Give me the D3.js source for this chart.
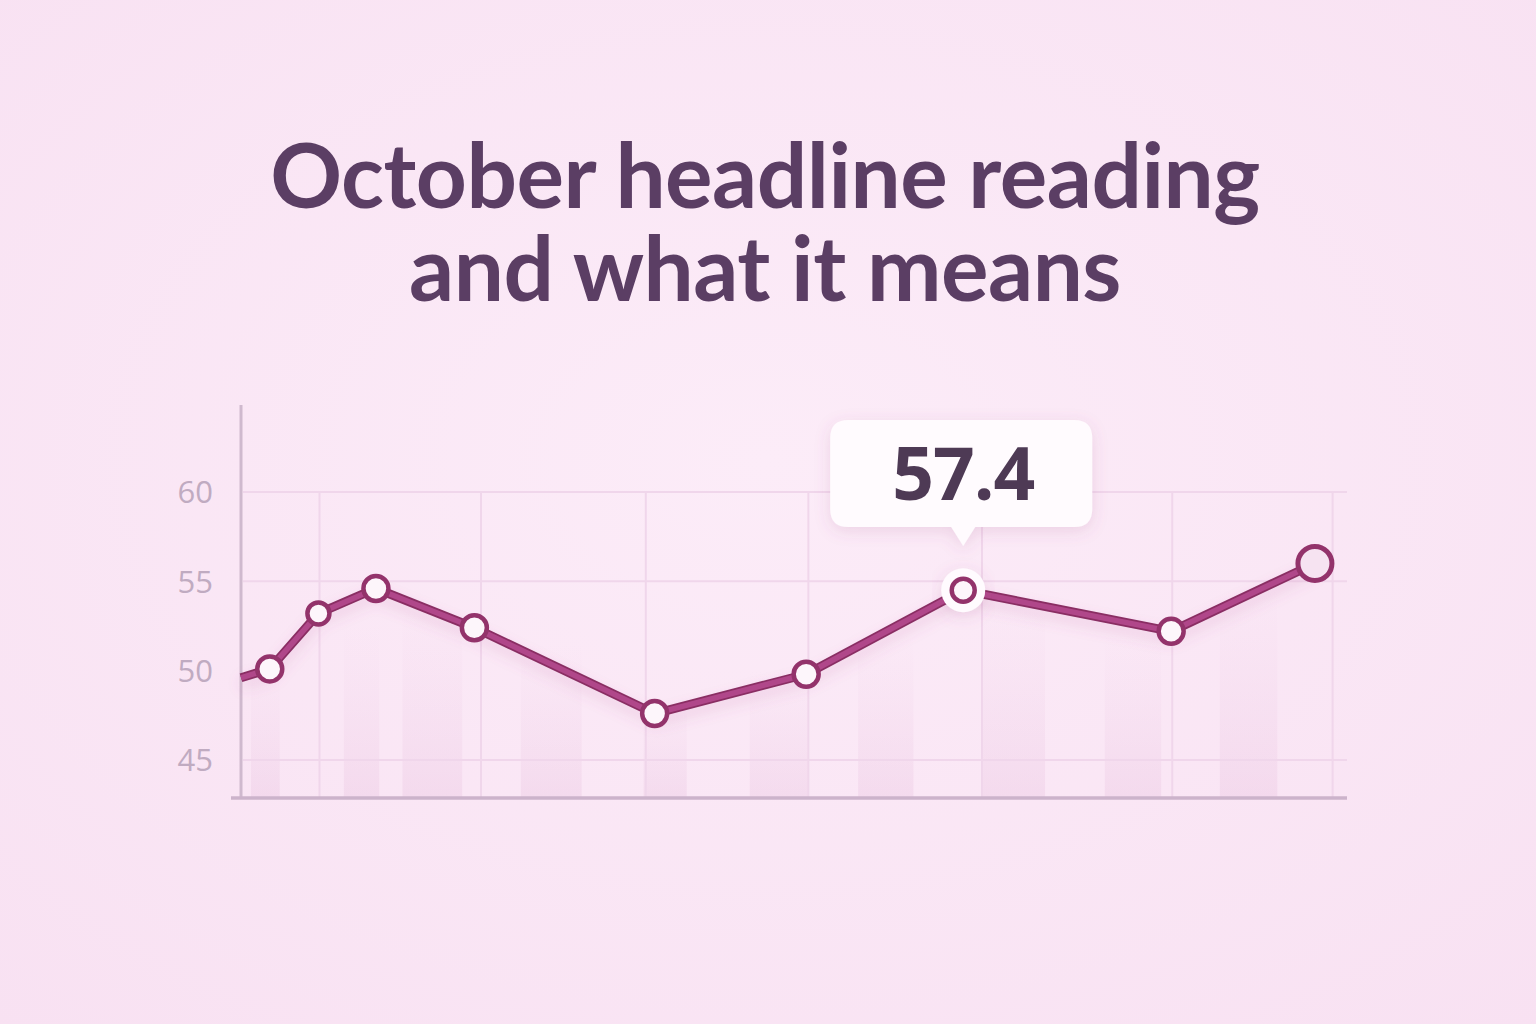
<!DOCTYPE html>
<html>
<head>
<meta charset="utf-8">
<script src="https://cdn.jsdelivr.net/npm/d3@7"></script>
<style>
html,body{margin:0;padding:0;background:#fae7f5;}
#wrap{position:relative;width:1536px;height:1024px;overflow:hidden;}
svg{display:block;position:absolute;left:0;top:0;}
#title{position:absolute;left:0;width:1530px;top:127px;text-align:center;
  font-family:Lato,'Open Sans',sans-serif;font-weight:700;font-size:89px;line-height:93px;
  letter-spacing:-0.5px;color:#5b3e64;margin:0;}
</style>
</head>
<body>
<div id="wrap">
<svg id="chart" width="1536" height="1024"></svg>
<div id="title"></div>
</div>
<script>
// ---- data ----
const titleLines = ["October headline reading", "and what it means"];
const periods = [0, 2.6, 7.0, 12.2, 21.1, 37.4, 51.1, 65.3, 84.1, 97.1];
const readings = [49.6, 50.1, 53.2, 54.6, 52.4, 47.6, 49.8, 54.5, 52.2, 56.0];
const showMarker = [false, true, true, true, true, true, true, true, true, true];
const highlightIndex = 7;
const calloutText = "57.4";
const yTicks = [45, 50, 55, 60];
const yGridValues = [45, 55, 60];
const xGridPeriods = [7.1, 21.7, 36.6, 51.3, 67.0, 84.2, 98.7];
const barStarts = [0.9, 9.3, 14.6, 25.3, 36.4, 46.0, 55.8, 67.0, 78.1, 88.5];
const barEnds   = [3.5, 12.5, 20.0, 30.8, 40.3, 51.3, 60.8, 72.7, 83.2, 93.7];
const barValues = [50.5, 52.5, 53.5, 51.5, 48.5, 50.0, 52.0, 54.0, 52.0, 54.5];

// ---- layout ----
const W = 1536, H = 1024;
const svg = d3.select("#chart");
const defs = svg.append("defs");

const bg = defs.append("radialGradient").attr("id","bg").attr("cx","50%").attr("cy","45%").attr("r","75%");
bg.append("stop").attr("offset","0%").attr("stop-color","#fcecf8");
bg.append("stop").attr("offset","100%").attr("stop-color","#f8e1f2");
svg.append("rect").attr("width",W).attr("height",H).attr("fill","url(#bg)");

const barGrad = defs.append("linearGradient").attr("id","barGrad").attr("x1",0).attr("y1",0).attr("x2",0).attr("y2",1);
barGrad.append("stop").attr("offset","0%").attr("stop-color","#ecc9e4").attr("stop-opacity",0);
barGrad.append("stop").attr("offset","100%").attr("stop-color","#e6bddc").attr("stop-opacity",0.3);

const shadow = defs.append("filter").attr("id","shadow").attr("x","-20%").attr("y","-20%").attr("width","140%").attr("height","160%");
shadow.append("feDropShadow").attr("dx",0).attr("dy",7).attr("stdDeviation",7).attr("flood-color","#b0508a").attr("flood-opacity",0.16);

const boxShadow = defs.append("filter").attr("id","boxShadow").attr("x","-20%").attr("y","-30%").attr("width","140%").attr("height","170%");
boxShadow.append("feDropShadow").attr("dx",0).attr("dy",4).attr("stdDeviation",8).attr("flood-color","#a0507f").attr("flood-opacity",0.16);

// title (single block, two lines)
const titleDiv = d3.select("#title");
titleLines.forEach((t,i)=>{
  if(i>0) titleDiv.append("br");
  titleDiv.append(()=>document.createTextNode(t));
});

// scales
const x = d3.scaleLinear().domain([0,100]).range([241,1347]);
const y = d3.scaleLinear().domain([45,60]).range([760,492]);
const baseY = 798;

// background bars
svg.append("g").selectAll("rect").data(barValues).join("rect")
  .attr("x",(d,i)=>x(barStarts[i]))
  .attr("width",(d,i)=>x(barEnds[i])-x(barStarts[i]))
  .attr("y",d=>y(d))
  .attr("height",d=>baseY-y(d))
  .attr("fill","url(#barGrad)");

// grid
const grid = svg.append("g").attr("stroke","#f0d6eb").attr("stroke-width",2);
grid.selectAll("line.h").data(yGridValues).join("line").attr("class","h")
  .attr("x1",243).attr("x2",1347).attr("y1",d=>y(d)).attr("y2",d=>y(d));
grid.selectAll("line.v").data(xGridPeriods).join("line").attr("class","v")
  .attr("x1",d=>x(d)).attr("x2",d=>x(d)).attr("y1",y(60)).attr("y2",baseY);

// y axis via d3.axisLeft
const yAxis = d3.axisLeft(y).tickValues(yTicks).tickSize(0).tickPadding(28).tickFormat(d3.format("d"));
const gy = svg.append("g").attr("transform","translate(241,0)").call(yAxis);
gy.select(".domain").remove();
gy.selectAll("text")
  .attr("font-family","'Open Sans', sans-serif")
  .attr("font-size",31)
  .attr("fill","#c0abc1")
  .attr("dy","0.35em");

// axis lines
svg.append("line").attr("x1",241).attr("x2",241).attr("y1",405).attr("y2",baseY)
  .attr("stroke","#cfb9ce").attr("stroke-width",3);
svg.append("line").attr("x1",231).attr("x2",1347).attr("y1",baseY).attr("y2",baseY)
  .attr("stroke","#ccb3cb").attr("stroke-width",3.5);

// line
const pts = periods.map((p,i)=>({x:x(p), y:y(readings[i]), i}));
const line = d3.line().x(d=>d.x).y(d=>d.y);
svg.append("path").datum(pts)
  .attr("d",line).attr("fill","none")
  .attr("stroke","#8a2f64").attr("stroke-width",9).attr("stroke-linejoin","round")
  .attr("filter","url(#shadow)");
svg.append("path").datum(pts)
  .attr("d",line).attr("fill","none")
  .attr("stroke","#b0478a").attr("stroke-width",5.5).attr("stroke-linejoin","round");

// callout
const hp = pts[highlightIndex];
const cg = svg.append("g").attr("filter","url(#boxShadow)");
const bx = hp.x - 133, bw = 262, by = 420, bh = 107;
cg.append("path")
  .attr("d", `M${bx+18},${by} H${bx+bw-18} Q${bx+bw},${by} ${bx+bw},${by+18} V${by+bh-18} Q${bx+bw},${by+bh} ${bx+bw-18},${by+bh} H${hp.x+12} L${hp.x},${by+bh+19} L${hp.x-12},${by+bh} H${bx+18} Q${bx},${by+bh} ${bx},${by+bh-18} V${by+18} Q${bx},${by} ${bx+18},${by} Z`)
  .attr("fill","#fffbfe");
svg.append("text").attr("x",hp.x).attr("y",500)
  .attr("text-anchor","middle")
  .attr("font-family","'Open Sans', sans-serif")
  .attr("font-weight",700)
  .attr("font-size",73)
  .attr("letter-spacing",-1)
  .attr("fill","#4e3a55")
  .text(calloutText);

// markers
const mk = pts.filter(d=>showMarker[d.i]);
const last = readings.length-1;
svg.append("circle").attr("cx",hp.x).attr("cy",hp.y).attr("r",22).attr("fill","#fffbfe").attr("filter","url(#boxShadow)");
svg.append("g").selectAll("circle").data(mk).join("circle")
  .attr("cx",d=>d.x).attr("cy",d=>d.y)
  .attr("r",d=> d.i===last ? 17 : (d.i===highlightIndex ? 11.5 : (d.i===2 ? 11 : 12.5)))
  .attr("fill",d=> d.i===last ? "#f6e3f1" : "#fdf6fb")
  .attr("stroke","#93336b")
  .attr("stroke-width",d=> d.i===last ? 5 : 4.5);
</script>
</body>
</html>
